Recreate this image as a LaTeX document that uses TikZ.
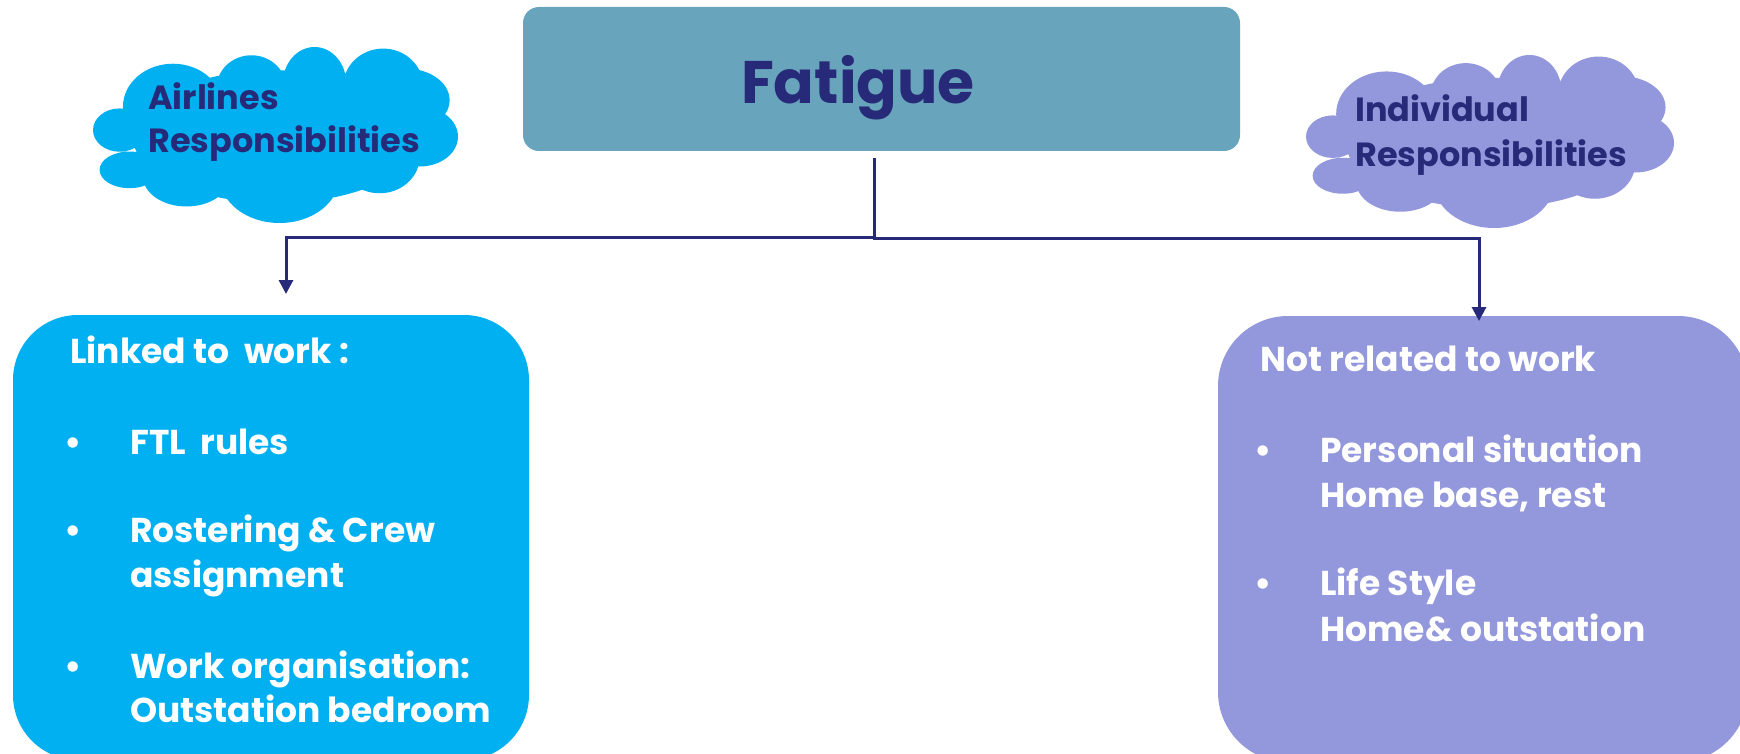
\documentclass[tikz,border=0pt]{standalone}
\usepackage{fontspec}
\setmainfont{Poppins}
\usetikzlibrary{arrows.meta}
\definecolor{navy}{RGB}{38,42,120}
\definecolor{tealbox}{RGB}{104,164,187}
\definecolor{cyanbox}{RGB}{0,176,240}
\definecolor{lav}{RGB}{147,151,219}
\newcommand{\cloudshape}[5]{%
\begin{scope}[shift={(#1,#2)}, xscale=#3, yscale=#4]
\fill[#5] (0.073,0.472) ellipse [x radius=0.073, y radius=0.123]
 (0.100,0.698) ellipse [x radius=0.082, y radius=0.104]
 (0.256,0.736) ellipse [x radius=0.119, y radius=0.170]
 (0.511,0.736) ellipse [x radius=0.164, y radius=0.264]
 (0.785,0.623) ellipse [x radius=0.110, y radius=0.208]
 (0.895,0.509) ellipse [x radius=0.105, y radius=0.170]
 (0.858,0.302) ellipse [x radius=0.119, y radius=0.179]
 (0.795,0.226) ellipse [x radius=0.110, y radius=0.217]
 (0.607,0.208) ellipse [x radius=0.087, y radius=0.208]
 (0.434,0.236) ellipse [x radius=0.096, y radius=0.189]
 (0.219,0.340) ellipse [x radius=0.137, y radius=0.245]
 (0.502,0.509) ellipse [x radius=0.393, y radius=0.377];
\end{scope}}
\begin{document}
\begin{tikzpicture}[x=1pt,y=-1pt,
  conn/.style={draw=navy, line width=3pt},
  tipstyle/.style={-{Triangle[length=14pt,width=14pt]}},
  bigbox/.style={rounded corners=#1, inner sep=0pt},
  boxtext/.style={anchor=base west, inner sep=0pt, text=white, font=\fontsize{34.5}{40}\selectfont\bfseries},
  cloudtext/.style={anchor=base west, inner sep=0pt, text=navy, font=\fontsize{33.5}{38}\selectfont\bfseries}]
\useasboundingbox (0,0) rectangle (1740,754);
% clouds
\cloudshape{93}{47}{365}{176}{cyanbox}
\cloudshape{1306}{55}{368}{173}{lav}
\node[cloudtext] (c1a) at (148,110) {Airlines};
\node[cloudtext] (c1b) at (148,153) {Responsibilities};
\node[cloudtext] (c2a) at (1355,122) {Individual};
\node[cloudtext] (c2b) at (1355,167) {Responsibilities};
% top box
\node[bigbox=16pt, fill=tealbox, minimum width=717pt, minimum height=144pt] (fat) at (881.5,79) {};
\node[anchor=base, inner sep=0pt, text=navy, font=\fontsize{60}{66}\selectfont\bfseries] (fatt) at (858,104) {Fatigue};
% lower boxes
\node[bigbox=65pt, fill=cyanbox, minimum width=516pt, minimum height=445pt] (lbox) at (271,537.5) {};
\node[bigbox=70pt, fill=lav, minimum width=530pt, minimum height=446pt] (rbox) at (1483,539) {};
% connectors
\coordinate (s) at ([xshift=-7pt,yshift=-7pt]fat.south);
\coordinate (la) at (286,294);
\coordinate (ra) at (1479,321);
\draw[conn, tipstyle] (s) -- ++(0,79) -| (la);
\draw[conn, tipstyle] (s) -- ++(0,80) -| (ra);
% left text
\node[boxtext] (l0) at (70,363) {Linked to\ \ work :};
\node[boxtext] (lb1) at (64,454) {•};
\node[boxtext] (l1) at (130,454) {FTL\ \ rules};
\node[boxtext] (lb2) at (64,542) {•};
\node[boxtext] (l2) at (130,542) {Rostering \& Crew};
\node[boxtext] (l2b) at (130,587) {assignment};
\node[boxtext] (lb3) at (64,678) {•};
\node[boxtext] (l3) at (130,678) {Work organisation:};
\node[boxtext] (l3b) at (130,722) {Outstation bedroom};
% right text
\node[boxtext] (r0) at (1260,371) {Not related to work};
\node[boxtext] (rb1) at (1254,462) {•};
\node[boxtext] (r1) at (1320,462) {Personal situation};
\node[boxtext] (r1b) at (1320,507) {Home base, rest};
\node[boxtext] (rb2) at (1254,595) {•};
\node[boxtext] (r2) at (1320,595) {Life Style};
\node[boxtext] (r2b) at (1320,641) {Home\& outstation};
\end{tikzpicture}
\end{document}
